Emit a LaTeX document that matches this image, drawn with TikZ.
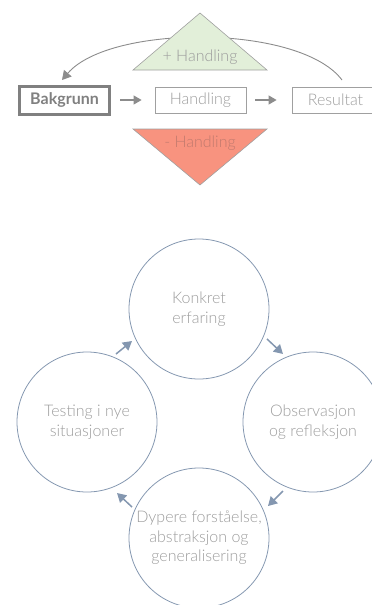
\documentclass[tikz,border=0pt]{standalone}
\usepackage{fontspec}
\setmainfont{Lato}[UprightFont=* Light, BoldFont=* Bold]
\usetikzlibrary{arrows.meta,calc}
\definecolor{txtgray}{HTML}{9C9C9C}
\definecolor{boxgray}{HTML}{A0A0A0}
\definecolor{darkgray}{HTML}{808080}
\definecolor{arrgray}{HTML}{8C8C8C}
\definecolor{greenfill}{HTML}{E2EFD9}
\definecolor{redfill}{HTML}{F8937F}
\definecolor{redtxt}{HTML}{C27A6E}
\definecolor{cblue}{HTML}{8497B0}
\begin{document}
\begin{tikzpicture}[x=1pt,y=-1pt,
  lbl/.style={font=\fontsize{16}{19.5}\selectfont, text=txtgray, align=center},
  stepbox/.style={draw=boxgray, line width=0.8pt, minimum height=26pt, inner sep=0pt, lbl},
  garrow/.style={draw=arrgray, line width=1.2pt, -{Triangle[width=9pt,length=8pt]}},
  cyc/.style={circle, draw=cblue, line width=0.8pt, minimum size=140pt, inner sep=0pt, lbl},
  carrow/.style={draw=cblue, line width=1.5pt, -{Triangle[width=10pt,length=9pt]}}
]
\useasboundingbox (0,0) rectangle (372,605);
% curved feedback arrow (behind triangle)
\coordinate (cstart) at (342,80);
\coordinate (cend) at (62,80);
\draw[draw=arrgray, line width=0.9pt, -{Triangle[width=10pt,length=9pt]}]
  (cstart) .. controls (300,24) and (110,24) .. (cend);
% green triangle
\draw[fill=greenfill, draw=boxgray, line width=0.6pt] (133,70) -- (200,13) -- (267,70) -- cycle;
\node[lbl] (plus) at (200,57) {+ Handling};
% red triangle
\draw[fill=redfill, draw=boxgray, line width=0.6pt] (133,129) -- (267,129) -- (200,185) -- cycle;
\node[lbl, text=redtxt] (minus) at (200,143) {- Handling};
% boxes
\node[draw=darkgray, line width=3pt, minimum width=90pt, minimum height=28pt, inner sep=0pt,
  font=\fontsize{16}{19.5}\selectfont\bfseries, text=darkgray] (bak) at (64.5,100) {Bakgrunn};
\node[stepbox, minimum width=91pt] (hand) at (200.5,100) {Handling};
\node[stepbox, minimum width=82pt, text width=82pt] (res) at (333,100) {\hspace*{5pt}Resultat};
\draw[garrow] (bak.east) ++(9,0) coordinate (a1s) -- ($(hand.west)+(-13,0)$) coordinate (a1e);
\draw[garrow] (hand.east) ++(9,0) coordinate (a2s) -- ($(res.west)+(-15,0)$) coordinate (a2e);
% cycle
\node[cyc] (T) at (199,309) {Konkret\\erfaring};
\node[cyc] (L) at (87,422) {Testing i nye\\situasjoner};
\node[cyc] (R) at (313,422) {Observasjon\\og refleksjon};
\node[cyc] (B) at (199,538) {Dypere forståelse,\\abstraksjon og\\generalisering};
\coordinate (lt1) at (116,354); \coordinate (lt2) at (132,341);
\coordinate (tr1) at (267,339); \coordinate (tr2) at (283,354);
\coordinate (rb1) at (283,491); \coordinate (rb2) at (268,506);
\coordinate (bl1) at (132,507); \coordinate (bl2) at (117,493);
\draw[carrow] (lt1) -- (lt2);
\draw[carrow] (tr1) -- (tr2);
\draw[carrow] (rb1) -- (rb2);
\draw[carrow] (bl1) -- (bl2);
\end{tikzpicture}
\end{document}
